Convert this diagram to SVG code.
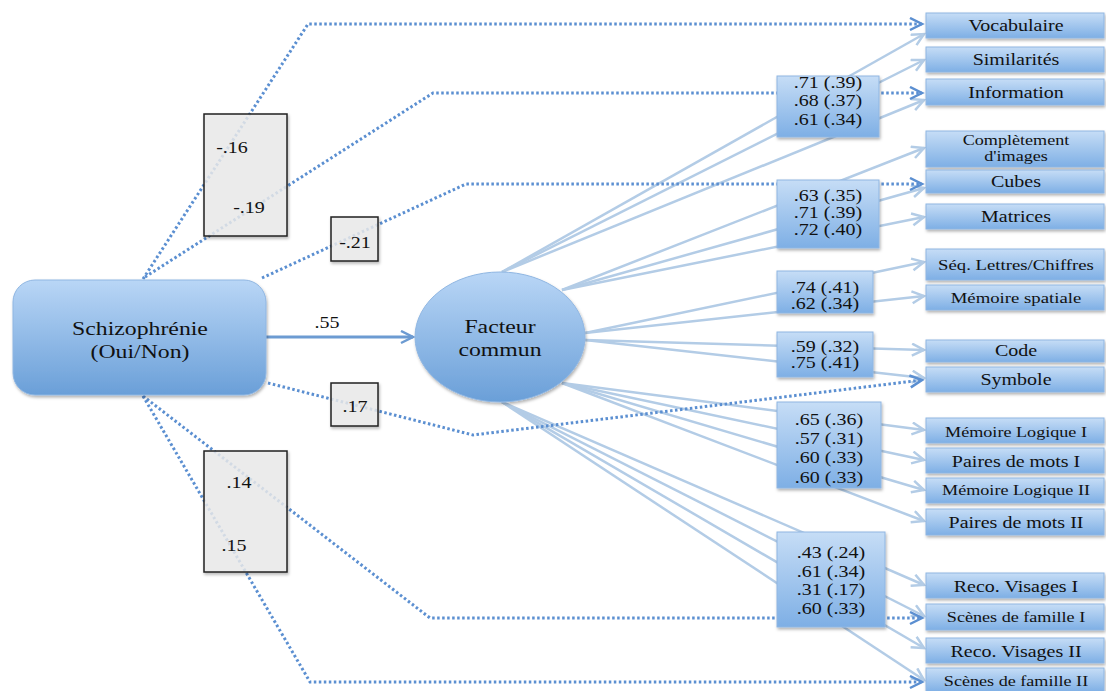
<svg xmlns="http://www.w3.org/2000/svg" width="1106" height="691" viewBox="0 0 1106 691">
<style>
.t{font-family:"Liberation Serif","Times New Roman",serif;font-size:16px;fill:#111;text-anchor:middle}
.s15{font-size:15px}
.s14{font-size:14.5px}
.s19{font-size:19px}
.dot{fill:none;stroke:#5b8fd1;stroke-width:3;stroke-dasharray:2.5 2.5}
.sol{fill:none;stroke:#b3cce6;stroke-width:2.5}
.main{fill:none;stroke:#6c9bd2;stroke-width:3}
.lab{fill:url(#gb);stroke:#8fb6e2;stroke-width:1;filter:url(#sh)}
.coef{fill:#eeeeee;fill-opacity:0.8;stroke:#222;stroke-width:1.5;filter:url(#sh)}
</style>
<defs>
<linearGradient id="gb" x1="0" y1="0" x2="0" y2="1"><stop offset="0" stop-color="#c6ddf6"/><stop offset="1" stop-color="#7eafe5"/></linearGradient>
<linearGradient id="gs" x1="0" y1="0" x2="0" y2="1"><stop offset="0" stop-color="#b9d6f6"/><stop offset="1" stop-color="#6a9fd8"/></linearGradient>
<filter id="sh" x="-10%" y="-10%" width="130%" height="150%"><feDropShadow dx="1" dy="2" stdDeviation="1.5" flood-color="#000" flood-opacity="0.3"/></filter>
<marker id="ad" markerUnits="userSpaceOnUse" markerWidth="16" markerHeight="16" refX="13" refY="7" orient="auto"><path d="M1,1 L13,7 L1,13" fill="none" stroke="#5b8fd1" stroke-width="2.5"/></marker>
<marker id="as" markerUnits="userSpaceOnUse" markerWidth="16" markerHeight="16" refX="13" refY="7" orient="auto"><path d="M1,1 L13,7 L1,13" fill="none" stroke="#b3cce6" stroke-width="2.5"/></marker>
<marker id="am" markerUnits="userSpaceOnUse" markerWidth="16" markerHeight="16" refX="13" refY="7" orient="auto"><path d="M1,1 L13,7 L1,13" fill="none" stroke="#6c9bd2" stroke-width="2.5"/></marker>
</defs>
<rect width="1106" height="691" fill="#fff"/>
<g id="connectors">
<path class="sol" marker-end="url(#as)" d="M502,272 L924,34"/>
<path class="sol" marker-end="url(#as)" d="M502,272 L924,60"/>
<path class="sol" marker-end="url(#as)" d="M502,272 L924,100"/>
<path class="sol" marker-end="url(#as)" d="M562,290 L924,148"/>
<path class="sol" marker-end="url(#as)" d="M562,290 L924,188"/>
<path class="sol" marker-end="url(#as)" d="M562,290 L924,217"/>
<path class="sol" marker-end="url(#as)" d="M585,333 L924,262"/>
<path class="sol" marker-end="url(#as)" d="M585,333 L924,296"/>
<path class="sol" marker-end="url(#as)" d="M585,340 L924,350"/>
<path class="sol" marker-end="url(#as)" d="M585,340 L924,378"/>
<path class="sol" marker-end="url(#as)" d="M562,383 L924,430"/>
<path class="sol" marker-end="url(#as)" d="M562,383 L924,460"/>
<path class="sol" marker-end="url(#as)" d="M562,383 L924,490"/>
<path class="sol" marker-end="url(#as)" d="M562,383 L924,521"/>
<path class="sol" marker-end="url(#as)" d="M502,402 L924,585"/>
<path class="sol" marker-end="url(#as)" d="M502,402 L924,616"/>
<path class="sol" marker-end="url(#as)" d="M502,402 L924,648"/>
<path class="sol" marker-end="url(#as)" d="M502,402 L924,680"/>
<path class="dot" marker-end="url(#ad)" d="M143,279 L308,24 L922,24"/>
<path class="dot" marker-end="url(#ad)" d="M145,277 L433,93 L922,93"/>
<path class="dot" marker-end="url(#ad)" d="M262,278 L466,184 L922,184"/>
<path class="dot" marker-end="url(#ad)" d="M268,383 L473,435 L922,380"/>
<path class="dot" marker-end="url(#ad)" d="M143,396 L430,618 L922,618"/>
<path class="dot" marker-end="url(#ad)" d="M143,396 L310,682 L922,682"/>
<path class="main" marker-end="url(#am)" d="M266,337 L413,337"/>
<text class="t" transform="translate(327 328) scale(1.25 1)">.55</text>
</g>
<g id="coef-16-19"><rect class="coef" x="204" y="114" width="83" height="122"/><text class="t" transform="translate(232 153) scale(1.25 1)">-.16</text><text class="t" transform="translate(249 213) scale(1.25 1)">-.19</text></g>
<g id="coef-21"><rect class="coef" x="331" y="217" width="47" height="44"/><text class="t" transform="translate(355 248) scale(1.25 1)">-.21</text></g>
<g id="coef-17"><rect class="coef" x="331" y="383" width="47" height="43"/><text class="t" transform="translate(355 412) scale(1.25 1)">.17</text></g>
<g id="coef-14-15"><rect class="coef" x="204" y="451" width="83" height="121"/><text class="t" transform="translate(239 488) scale(1.25 1)">.14</text><text class="t" transform="translate(234 551) scale(1.25 1)">.15</text></g>
<g id="schizophrenie"><rect x="13" y="280" width="253" height="115" rx="22" fill="url(#gs)" stroke="#8fb6e2" filter="url(#sh)"/><text class="t s19" transform="translate(140 335) scale(1.25 1)">Schizophrénie</text><text class="t s19" transform="translate(140 358) scale(1.25 1)">(Oui/Non)</text></g>
<g id="facteur"><ellipse cx="500" cy="337" rx="85" ry="65" fill="url(#gs)" stroke="#8fb6e2" filter="url(#sh)"/><text class="t s19" transform="translate(500 333) scale(1.25 1)">Facteur</text><text class="t s19" transform="translate(500 356) scale(1.25 1)">commun</text></g>
<g id="load-a"><rect class="lab" x="777" y="76" width="102" height="61"/><text class="t" transform="translate(828 88) scale(1.25 1)">.71 (.39)</text><text class="t" transform="translate(828 106) scale(1.25 1)">.68 (.37)</text><text class="t" transform="translate(828 125) scale(1.25 1)">.61 (.34)</text></g>
<g id="load-b"><rect class="lab" x="777" y="180" width="102" height="68"/><text class="t" transform="translate(828 201) scale(1.25 1)">.63 (.35)</text><text class="t" transform="translate(828 218) scale(1.25 1)">.71 (.39)</text><text class="t" transform="translate(828 235) scale(1.25 1)">.72 (.40)</text></g>
<g id="load-c"><rect class="lab" x="777" y="271" width="96" height="42"/><text class="t" transform="translate(825 293) scale(1.25 1)">.74 (.41)</text><text class="t" transform="translate(825 309) scale(1.25 1)">.62 (.34)</text></g>
<g id="load-d"><rect class="lab" x="777" y="332" width="96" height="45"/><text class="t" transform="translate(825 352) scale(1.25 1)">.59 (.32)</text><text class="t" transform="translate(825 368) scale(1.25 1)">.75 (.41)</text></g>
<g id="load-e"><rect class="lab" x="777" y="402" width="104" height="86"/><text class="t" transform="translate(829 425) scale(1.25 1)">.65 (.36)</text><text class="t" transform="translate(829 444) scale(1.25 1)">.57 (.31)</text><text class="t" transform="translate(829 463) scale(1.25 1)">.60 (.33)</text><text class="t" transform="translate(829 483) scale(1.25 1)">.60 (.33)</text></g>
<g id="load-f"><rect class="lab" x="777" y="532" width="108" height="95"/><text class="t" transform="translate(831 558) scale(1.25 1)">.43 (.24)</text><text class="t" transform="translate(831 577) scale(1.25 1)">.61 (.34)</text><text class="t" transform="translate(831 595) scale(1.25 1)">.31 (.17)</text><text class="t" transform="translate(831 614) scale(1.25 1)">.60 (.33)</text></g>
<g id="vocabulaire"><rect class="lab" x="926" y="13" width="178" height="25"/><text class="t" transform="translate(1016 31) scale(1.25 1)">Vocabulaire</text></g>
<g id="similarites"><rect class="lab" x="926" y="47" width="178" height="25"/><text class="t" transform="translate(1016 65) scale(1.25 1)">Similarités</text></g>
<g id="information"><rect class="lab" x="926" y="79" width="178" height="26"/><text class="t" transform="translate(1016 98) scale(1.25 1)">Information</text></g>
<g id="completement"><rect class="lab" x="926" y="131" width="178" height="36"/><text class="t s14" transform="translate(1016 145) scale(1.25 1)">Complètement</text><text class="t s14" transform="translate(1016 161) scale(1.25 1)">d'images</text></g>
<g id="cubes"><rect class="lab" x="926" y="170" width="178" height="23"/><text class="t" transform="translate(1016 187) scale(1.25 1)">Cubes</text></g>
<g id="matrices"><rect class="lab" x="926" y="204" width="178" height="25"/><text class="t" transform="translate(1016 222) scale(1.25 1)">Matrices</text></g>
<g id="seq"><rect class="lab" x="926" y="249" width="178" height="31"/><text class="t s15" transform="translate(1016 270) scale(1.25 1)">Séq. Lettres/Chiffres</text></g>
<g id="memoire-spatiale"><rect class="lab" x="926" y="285" width="178" height="25"/><text class="t s15" transform="translate(1016 303) scale(1.25 1)">Mémoire spatiale</text></g>
<g id="code"><rect class="lab" x="926" y="340" width="178" height="22"/><text class="t" transform="translate(1016 356) scale(1.25 1)">Code</text></g>
<g id="symbole"><rect class="lab" x="926" y="367" width="178" height="25"/><text class="t" transform="translate(1016 385) scale(1.25 1)">Symbole</text></g>
<g id="memoire-logique-1"><rect class="lab" x="926" y="418" width="178" height="25"/><text class="t s14" transform="translate(1016 437) scale(1.25 1)">Mémoire Logique I</text></g>
<g id="paires-1"><rect class="lab" x="926" y="448" width="178" height="25"/><text class="t" transform="translate(1016 467) scale(1.25 1)">Paires de mots I</text></g>
<g id="memoire-logique-2"><rect class="lab" x="926" y="478" width="178" height="25"/><text class="t s14" transform="translate(1016 495) scale(1.25 1)">Mémoire Logique II</text></g>
<g id="paires-2"><rect class="lab" x="926" y="509" width="178" height="26"/><text class="t" transform="translate(1016 528) scale(1.25 1)">Paires de mots II</text></g>
<g id="reco-1"><rect class="lab" x="926" y="573" width="178" height="25"/><text class="t" transform="translate(1016 592) scale(1.25 1)">Reco. Visages I</text></g>
<g id="scenes-1"><rect class="lab" x="926" y="604" width="178" height="26"/><text class="t s14" transform="translate(1016 622) scale(1.25 1)">Scènes de famille I</text></g>
<g id="reco-2"><rect class="lab" x="926" y="638" width="178" height="25"/><text class="t" transform="translate(1016 657) scale(1.25 1)">Reco. Visages II</text></g>
<g id="scenes-2"><rect class="lab" x="926" y="668" width="178" height="24"/><text class="t s14" transform="translate(1016 686) scale(1.25 1)">Scènes de famille II</text></g>
</svg>
